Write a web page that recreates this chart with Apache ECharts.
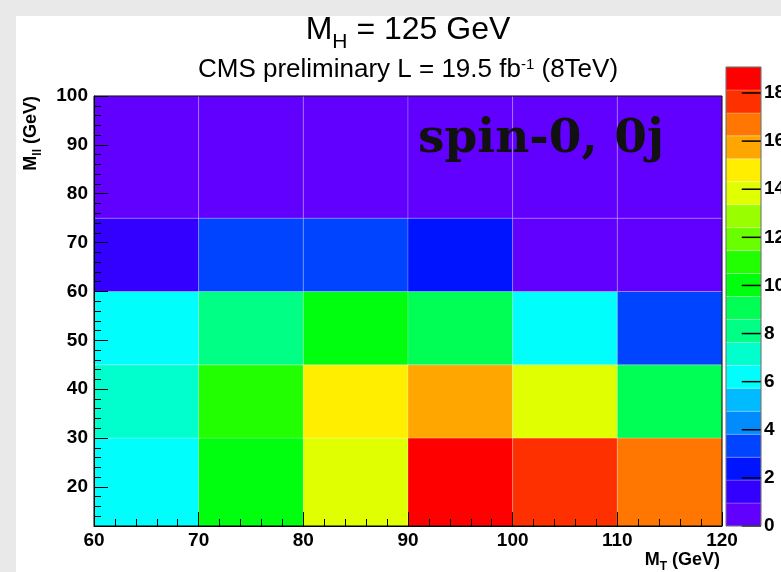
<!DOCTYPE html>
<html><head><meta charset="utf-8">
<script src="https://cdn.jsdelivr.net/npm/echarts@6/dist/echarts.min.js"></script>
<style>html,body{margin:0;padding:0;background:#fff}#c{width:781px;height:572px}</style>
</head><body><div id="c"></div>
<script>
// ---- data ----
const xEdges = [60, 70, 80, 90, 100, 110, 120];
const yEdges = [12, 30, 45, 60, 75, 100];
const row12to30  = [6.2, 10.0, 13.8, 19.08, 17.6, 16.7];
const row30to45  = [7.2, 10.9, 14.8, 15.7, 13.8, 9.0];
const row45to60  = [6.2, 8.1, 10.0, 9.0, 6.2, 3.3];
const row60to75  = [1.4, 3.3, 3.3, 2.4, 0.4, 0.4];
const row75to100 = [0.4, 0.4, 0.4, 0.4, 0.4, 0.4];
const rows = [row12to30, row30to45, row45to60, row60to75, row75to100];
const zMin = 0, zMax = 19.08, nContours = 20;
const palette = ['#6200ff','#3300ff','#0014ff','#0044ff','#008bff','#00bbff','#00fffc','#00ffcc','#00ff85','#00ff55',
                 '#00ff0e','#22ff00','#69ff00','#99ff00','#e0ff00','#ffee00','#ffa700','#ff7700','#ff3000','#ff0000'];
const xTicks = [60, 70, 80, 90, 100, 110, 120];
const yTicks = [20, 30, 40, 50, 60, 70, 80, 90, 100];
const yMinorTicks = [14,16,18,22,24,26,28,32,34,36,38,42,44,46,48,52,54,56,58,62,64,66,68,72,74,76,78,82,84,86,88,92,94,96,98];
const colorTicks = [0, 2, 4, 6, 8, 10, 12, 14, 16, 18];

// ---- build ----
const cells = [];
rows.forEach((r, j) => r.forEach((v, i) => cells.push([xEdges[i], xEdges[i+1], yEdges[j], yEdges[j+1], v])));
const step = (zMax - zMin) / nContours;
const bands = [];
const pieces = [];
for (let k = 0; k < nContours; k++) {
  const lo = zMin + k * step, hi = zMin + (k + 1) * step;
  bands.push([0, 1, lo, hi, (lo + hi) / 2]);
  pieces.push(k === nContours - 1 ? {gte: lo, lte: hi + 1e-6, color: palette[k]} : {gte: lo, lt: hi, color: palette[k]});
}

function rectItem(params, api) {
  const p0 = api.coord([api.value(0), api.value(2)]);
  const p1 = api.coord([api.value(1), api.value(3)]);
  return {type: 'rect',
    shape: {x: p0[0], y: p1[1], width: p1[0] - p0[0], height: p0[1] - p1[1]},
    style: {fill: api.visual('color'), stroke: 'rgba(255,255,255,0.22)', lineWidth: 1}};
}
function tickItem(params, api) {
  const a = api.coord([0.45, api.value(0)]);
  const b = api.coord([1, api.value(0)]);
  return {type: 'line', shape: {x1: a[0], y1: a[1], x2: b[0], y2: b[1]},
    style: {stroke: '#000', lineWidth: 1.5}};
}

const lblFont = {fontFamily: 'Liberation Sans', fontWeight: 'bold', fontSize: 19, color: '#000'};
const chart = echarts.init(document.getElementById('c'), null, {renderer: 'canvas'});
chart.setOption({
  backgroundColor: '#e9e9e9',
  animation: false,
  grid: [
    {left: 94, top: 96, width: 628, height: 430, outerBoundsMode: 'none', containLabel: false,
     show: true, z: 10, borderColor: '#000', borderWidth: 1, backgroundColor: 'transparent'},
    {left: 726, top: 67, width: 35, height: 459, outerBoundsMode: 'none', containLabel: false,
     show: true, z: 10, borderColor: '#666', borderWidth: 1, backgroundColor: 'transparent'}
  ],
  xAxis: [
    {type: 'value', gridIndex: 0, position: 'bottom', min: 60, max: 120, interval: 10, z: 10,
     axisLine: {show: true, lineStyle: {color: '#000', width: 1}},
     axisTick: {show: true, inside: true, length: 14, lineStyle: {color: '#000'}},
     minorTick: {show: true, splitNumber: 5, length: 7, lineStyle: {color: '#000'}},
     splitLine: {show: false},
     axisLabel: Object.assign({margin: 5}, lblFont)},
    {type: 'value', gridIndex: 1, min: 0, max: 1, show: false}
  ],
  yAxis: [
    {type: 'value', gridIndex: 0, position: 'left', min: 12, max: 100, z: 10,
     axisLine: {show: true, lineStyle: {color: '#000', width: 1}},
     axisTick: {show: true, inside: true, length: 14, customValues: yTicks, lineStyle: {color: '#000'}},
     splitLine: {show: false},
     axisLabel: Object.assign({margin: 6, customValues: yTicks}, lblFont)},
    {type: 'value', gridIndex: 0, position: 'left', offset: 0, min: 12, max: 100, z: 10,
     axisLine: {show: false},
     axisTick: {show: true, inside: true, length: 7, customValues: yMinorTicks, lineStyle: {color: '#000'}},
     splitLine: {show: false}, axisLabel: {show: false}},
    {type: 'value', gridIndex: 1, position: 'right', offset: 0, min: zMin, max: zMax, z: 10,
     axisLine: {show: false},
     axisTick: {show: false},
     splitLine: {show: false},
     axisLabel: Object.assign({margin: 3, customValues: colorTicks}, lblFont)}
  ],
  visualMap: {type: 'piecewise', show: false, dimension: 4, seriesIndex: [0, 1], pieces: pieces},
  series: [
    {type: 'custom', xAxisIndex: 0, yAxisIndex: 0, data: cells, renderItem: rectItem, clip: true,
     encode: {x: [0, 1], y: [2, 3]}},
    {type: 'custom', xAxisIndex: 1, yAxisIndex: 2, data: bands, renderItem: rectItem, clip: true,
     encode: {x: [0, 1], y: [2, 3]}},
    {type: 'custom', xAxisIndex: 1, yAxisIndex: 2, z: 5, data: colorTicks.map(v => [v]), renderItem: tickItem,
     encode: {y: 0}}
  ],
  graphic: [
    {type: 'rect', z: -10, shape: {x: 16, y: 16, width: 765, height: 556}, style: {fill: '#fff'}},
    {type: 'text', z: 100, x: 408, y: 30, style: {
      text: '{m|M}{s|H}{m| = 125 GeV}', align: 'center', verticalAlign: 'middle',
      rich: {m: {fontFamily: 'Liberation Sans', fontSize: 32, lineHeight: 32, verticalAlign: 'top', fill: '#000'},
             s: {fontFamily: 'Liberation Sans', fontSize: 21, lineHeight: 21, verticalAlign: 'top', padding: [18, 0, 0, 0], fill: '#000'}}}},
    {type: 'text', z: 100, x: 408, y: 70, style: {
      text: '{m|CMS preliminary L = 19.5 fb}{p|-1}{m| (8TeV)}', align: 'center', verticalAlign: 'middle',
      rich: {m: {fontFamily: 'Liberation Sans', fontSize: 26, lineHeight: 26, verticalAlign: 'bottom', padding: [5, 0, 0, 0], fill: '#000'},
             p: {fontFamily: 'Liberation Sans', fontSize: 15, lineHeight: 15, verticalAlign: 'top', fill: '#000'}}}},
    {type: 'text', z: 100, x: 418, y: 140, style: {
      text: 'spin-0, 0j', align: 'left', verticalAlign: 'middle',
      fontFamily: 'DejaVu Serif', fontWeight: 'bold', fontSize: 47, fill: '#111'}},
    {type: 'text', z: 100, x: 720, y: 560, style: {
      text: '{m|M}{s|T}{m| (GeV)}', align: 'right', verticalAlign: 'middle',
      rich: {m: {fontFamily: 'Liberation Sans', fontWeight: 'bold', fontSize: 18, lineHeight: 18, verticalAlign: 'top', fill: '#000'},
             s: {fontFamily: 'Liberation Sans', fontWeight: 'bold', fontSize: 12, lineHeight: 12, verticalAlign: 'top', padding: [10, 0, 0, 0], fill: '#000'}}}},
    {type: 'text', z: 100, x: 31, y: 96, rotation: Math.PI / 2, style: {
      text: '{m|M}{s|ll}{m| (GeV)}', align: 'right', verticalAlign: 'middle',
      rich: {m: {fontFamily: 'Liberation Sans', fontWeight: 'bold', fontSize: 18, lineHeight: 18, verticalAlign: 'top', fill: '#000'},
             s: {fontFamily: 'Liberation Sans', fontWeight: 'bold', fontSize: 12, lineHeight: 12, verticalAlign: 'top', padding: [10, 0, 0, 0], fill: '#000'}}}}
  ]
});
</script></body></html>
